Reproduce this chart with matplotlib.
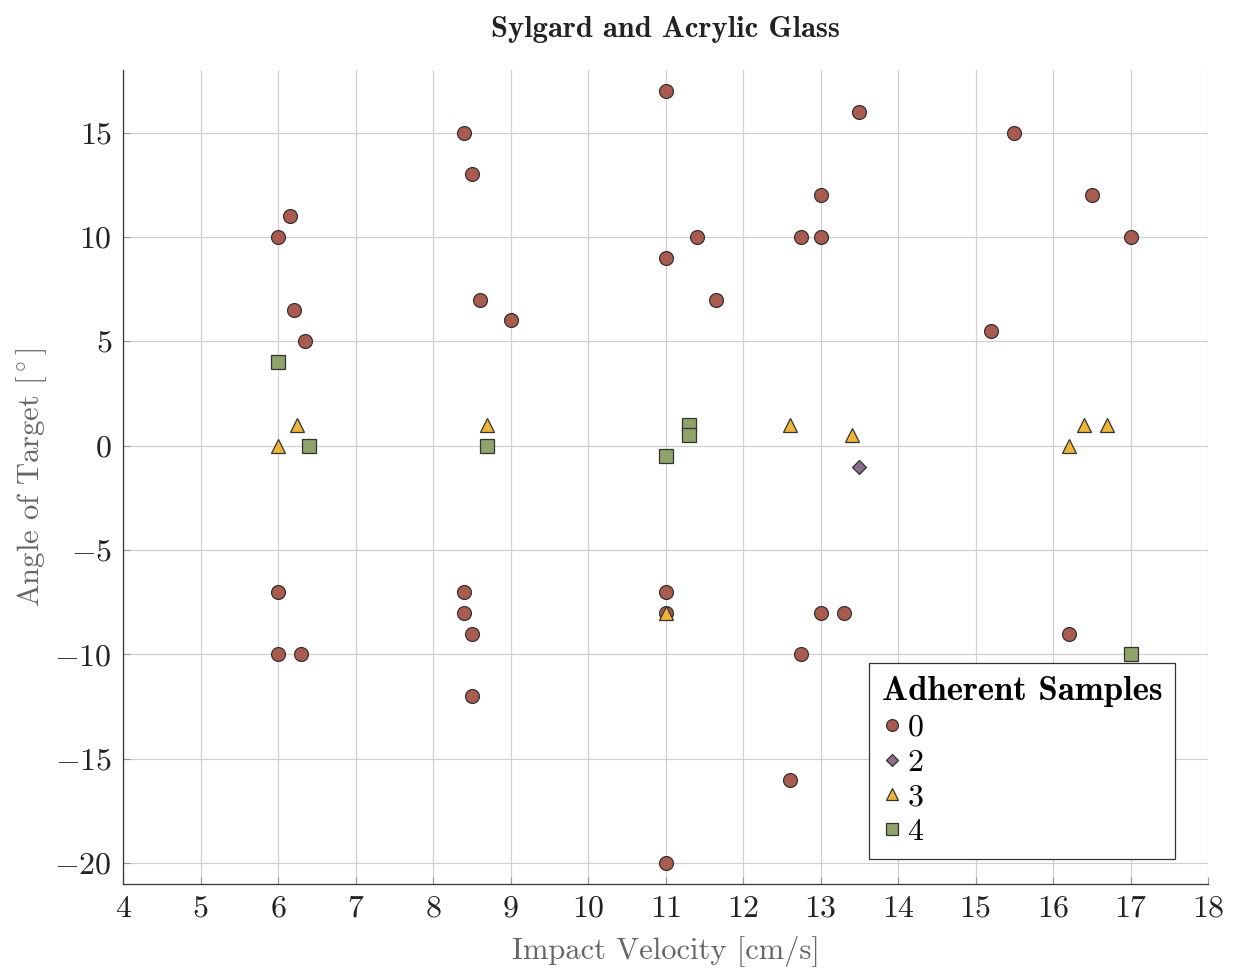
import matplotlib
matplotlib.use("Agg")
import matplotlib.pyplot as plt

plt.rcParams["font.family"] = ["cmr10", "DejaVu Serif"]
plt.rcParams["mathtext.fontset"] = "cm"
plt.rcParams["axes.formatter.use_mathtext"] = True

# Adherent samples = 0
v0 = [6, 6.15, 6.2, 6.35, 8.4, 8.5, 8.6, 9, 11, 11, 11.4, 11.65,
      13.5, 13, 12.75, 13, 15.5, 16.5, 17, 15.2,
      6, 6, 6.3, 8.4, 8.4, 8.5, 8.5, 11, 11, 11,
      12.75, 13, 13.3, 12.6, 16.2]
a0 = [10, 11, 6.5, 5, 15, 13, 7, 6, 17, 9, 10, 7,
      16, 12, 10, 10, 15, 12, 10, 5.5,
      -7, -10, -10, -7, -8, -9, -12, -7, -8, -20,
      -10, -8, -8, -16, -9]
# Adherent samples = 2
v2 = [13.5]
a2 = [-1]
# Adherent samples = 3
v3 = [6, 6.25, 8.7, 11, 12.6, 13.4, 16.2, 16.4, 16.7]
a3 = [0, 1, 1, -8, 1, 0.5, 0, 1, 1]
# Adherent samples = 4
v4 = [6, 6.4, 8.7, 11, 11.3, 11.3, 17]
a4 = [4, 0, 0, -0.5, 1, 0.5, -10]

groups = [
    ("0", v0, a0, "o", "#a95b50", 10),
    ("2", v2, a2, "D", "#8b6b8c", 7),
    ("3", v3, a3, "^", "#efb43a", 10),
    ("4", v4, a4, "s", "#8fa36b", 10),
]

fig = plt.figure(figsize=(12.43, 9.71), dpi=100)
ax = fig.add_axes([0.099, 0.0896, 0.873, 0.8384])

for label, xs, ys, marker, color, ms in groups:
    ax.plot(xs, ys, linestyle="none", marker=marker, markersize=ms,
            markerfacecolor=color, markeredgecolor="#333333",
            markeredgewidth=0.9, label=label, zorder=3)

ax.set_xlim(4, 18)
ax.set_ylim(-21, 18)
ax.set_xticks(range(4, 19))
ax.set_yticks([-20, -15, -10, -5, 0, 5, 10, 15])
ax.grid(True, color="#d0d0d0", linewidth=0.9, zorder=0)
ax.set_axisbelow(True)
for side in ["top", "right"]:
    ax.spines[side].set_visible(False)
for side in ["left", "bottom"]:
    ax.spines[side].set_color("#333333")
    ax.spines[side].set_linewidth(0.9)
ax.tick_params(labelsize=23, labelcolor="#222222", color="#999999",
               direction="in", length=5, pad=8)

ax.set_xlabel("Impact Velocity [cm/s]", fontsize=22, color="#666666",
              labelpad=10)
ax.set_ylabel(r"Angle of Target [$^\circ$]", fontsize=22, color="#666666",
              labelpad=4)
ax.set_title("Sylgard and Acrylic Glass", fontsize=22, fontfamily="cmb10",
             color="#222222", pad=24)

leg = ax.legend(title="Adherent Samples", loc="lower right",
                bbox_to_anchor=(0.9696, 0.0307), fontsize=23, markerscale=0.85,
                handlelength=0.6, handletextpad=0.2, labelspacing=0.2,
                fancybox=False, edgecolor="#333333", framealpha=1,
                borderpad=0.4, borderaxespad=0, alignment="left")
leg.get_title().set_fontfamily("cmb10")
leg.get_title().set_fontsize(25)
leg.get_frame().set_linewidth(0.9)

fig.savefig("out.png", dpi=100)
